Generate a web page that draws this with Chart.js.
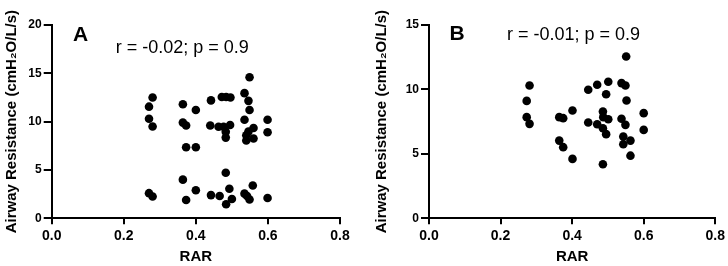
<!DOCTYPE html>
<html>
<head>
<meta charset="utf-8">
<script src="https://cdn.jsdelivr.net/npm/chart.js@4"></script>
<style>
  body { margin: 0; background: #fff; }
  #wrap { display: flex; width: 728px; height: 266px; }
  canvas { display: block; }
</style>
</head>
<body>
<div id="wrap">
  <canvas id="chartA" width="364" height="266"></canvas>
  <canvas id="chartB" width="364" height="266"></canvas>
</div>
<script>
// datos panel A
const rarA = [0.270, 0.280, 0.270, 0.280, 0.270, 0.280,
  0.364, 0.364, 0.373, 0.400, 0.373, 0.400, 0.364, 0.373, 0.400,
  0.442, 0.440, 0.442, 0.472, 0.484, 0.496, 0.463, 0.477, 0.495, 0.483, 0.483,
  0.466, 0.483, 0.493, 0.500, 0.484,
  0.535, 0.549, 0.546, 0.549, 0.535, 0.560, 0.546, 0.540, 0.540, 0.560,
  0.535, 0.542, 0.549, 0.558, 0.599, 0.599, 0.599];
const resA = [11.55, 12.5, 10.3, 9.5, 2.6, 2.25,
  11.8, 9.9, 9.6, 11.2, 7.35, 7.35, 4.0, 1.9, 2.9,
  12.2, 9.6, 2.4, 12.55, 12.55, 12.5, 9.47, 9.47, 9.65, 8.96, 8.35,
  2.3, 4.72, 3.05, 2.0, 1.45,
  12.95, 14.6, 12.15, 11.2, 10.2, 9.35, 8.97, 8.6, 8.05, 8.25,
  2.55, 2.3, 1.95, 3.4, 10.2, 8.9, 2.1];

// datos panel B
const rarB = [0.281, 0.273, 0.273, 0.281, 0.364, 0.375, 0.364, 0.375, 0.401, 0.401,
  0.445, 0.445, 0.470, 0.470, 0.486, 0.487, 0.486, 0.486, 0.495, 0.495, 0.501, 0.501,
  0.538, 0.549, 0.551, 0.552, 0.538, 0.549, 0.543, 0.543, 0.563, 0.563, 0.600, 0.600];
const resB = [10.3, 9.11, 7.85, 7.33, 7.85, 7.77, 6.03, 5.52, 8.36, 4.61,
  9.97, 7.43, 10.36, 7.3, 8.28, 7.85, 6.99, 4.2, 9.63, 6.53, 10.6, 7.69,
  10.49, 10.3, 12.56, 9.14, 7.72, 7.25, 6.34, 5.75, 6.03, 4.86, 8.16, 6.86];

const xTicks = [0.0, 0.2, 0.4, 0.6, 0.8];
const yTicksA = [0, 5, 10, 15, 20];
const yTicksB = [0, 5, 10, 15];

const fuente = '"Liberation Sans", Arial, sans-serif';

function puntos(xs, ys) {
  return xs.map((x, i) => ({ x: x, y: ys[i] }));
}

// letra del panel y texto de correlacion
const rotulos = {
  id: "rotulos",
  afterDraw(chart, args, opts) {
    const ctx = chart.ctx;
    const a = chart.chartArea;
    ctx.save();
    ctx.fillStyle = "#000";
    ctx.textBaseline = "middle";
    ctx.font = "bold 21px " + fuente;
    ctx.textAlign = "center";
    ctx.fillText(opts.letra, a.left + opts.letraX, opts.letraY);
    ctx.font = "18px " + fuente;
    ctx.textAlign = "left";
    ctx.fillText(opts.texto, a.left + opts.textoX, opts.textoY);
    ctx.restore();
  },
};

function crearGrafico(id, xs, ys, yTicks, cfg) {
  return new Chart(document.getElementById(id), {
    type: "scatter",
    data: {
      datasets: [
        {
          data: puntos(xs, ys),
          backgroundColor: "#000",
          borderWidth: 0,
          pointRadius: 4.3,
        },
      ],
    },
    options: {
      responsive: false,
      animation: false,
      devicePixelRatio: 1,
      layout: { padding: { left: 0, right: cfg.derecha, top: 25, bottom: 0 } },
      plugins: {
        legend: { display: false },
        tooltip: { enabled: false },
        rotulos: cfg.rotulos,
      },
      scales: {
        x: {
          type: "linear",
          min: 0,
          max: 0.8,
          afterBuildTicks: (s) => { s.ticks = xTicks.map((v) => ({ value: v })); },
          afterFit: (s) => { s.height = 47.7; },
          ticks: {
            color: "#000",
            font: { family: fuente, size: 14, weight: "bold" },
            padding: 3,
            maxRotation: 0,
            callback: (v) => v.toFixed(1),
          },
          grid: { drawOnChartArea: false, drawTicks: true, tickLength: 6, color: "#000", lineWidth: 2 },
          border: { display: true, color: "#000", width: 2 },
          title: {
            display: true,
            text: "RAR",
            color: "#000",
            font: { family: fuente, size: 15, weight: "bold" },
            padding: { top: 0, bottom: 0 },
          },
        },
        y: {
          type: "linear",
          min: 0,
          max: yTicks[yTicks.length - 1],
          afterBuildTicks: (s) => { s.ticks = yTicks.map((v) => ({ value: v })); },
          afterFit: (s) => { s.width = cfg.anchoY; },
          ticks: {
            color: "#000",
            font: { family: fuente, size: 12, weight: "bold" },
            padding: 2,
          },
          grid: { drawOnChartArea: false, drawTicks: true, tickLength: 8, color: "#000", lineWidth: 2 },
          border: { display: true, color: "#000", width: 2 },
          title: {
            display: true,
            text: "Airway Resistance (cmH\u2082O/L/s)",
            color: "#000",
            font: { family: fuente, size: 15, weight: "bold" },
            padding: { top: cfg.tituloY, bottom: 0 },
          },
        },
      },
    },
    plugins: [rotulos],
  });
}

crearGrafico("chartA", rarA, resA, yTicksA, {
  derecha: 24,
  anchoY: 51.7,
  tituloY: 3,
  rotulos: { letra: "A", letraX: 29, letraY: 35, texto: "r = -0.02; p = 0.9", textoX: 64, textoY: 48 },
});

crearGrafico("chartB", rarB, resB, yTicksB, {
  derecha: 10.7,
  anchoY: 65,
  tituloY: 9,
  rotulos: { letra: "B", letraX: 28, letraY: 34, texto: "r = -0.01; p = 0.9", textoX: 78, textoY: 35 },
});
</script>
</body>
</html>
